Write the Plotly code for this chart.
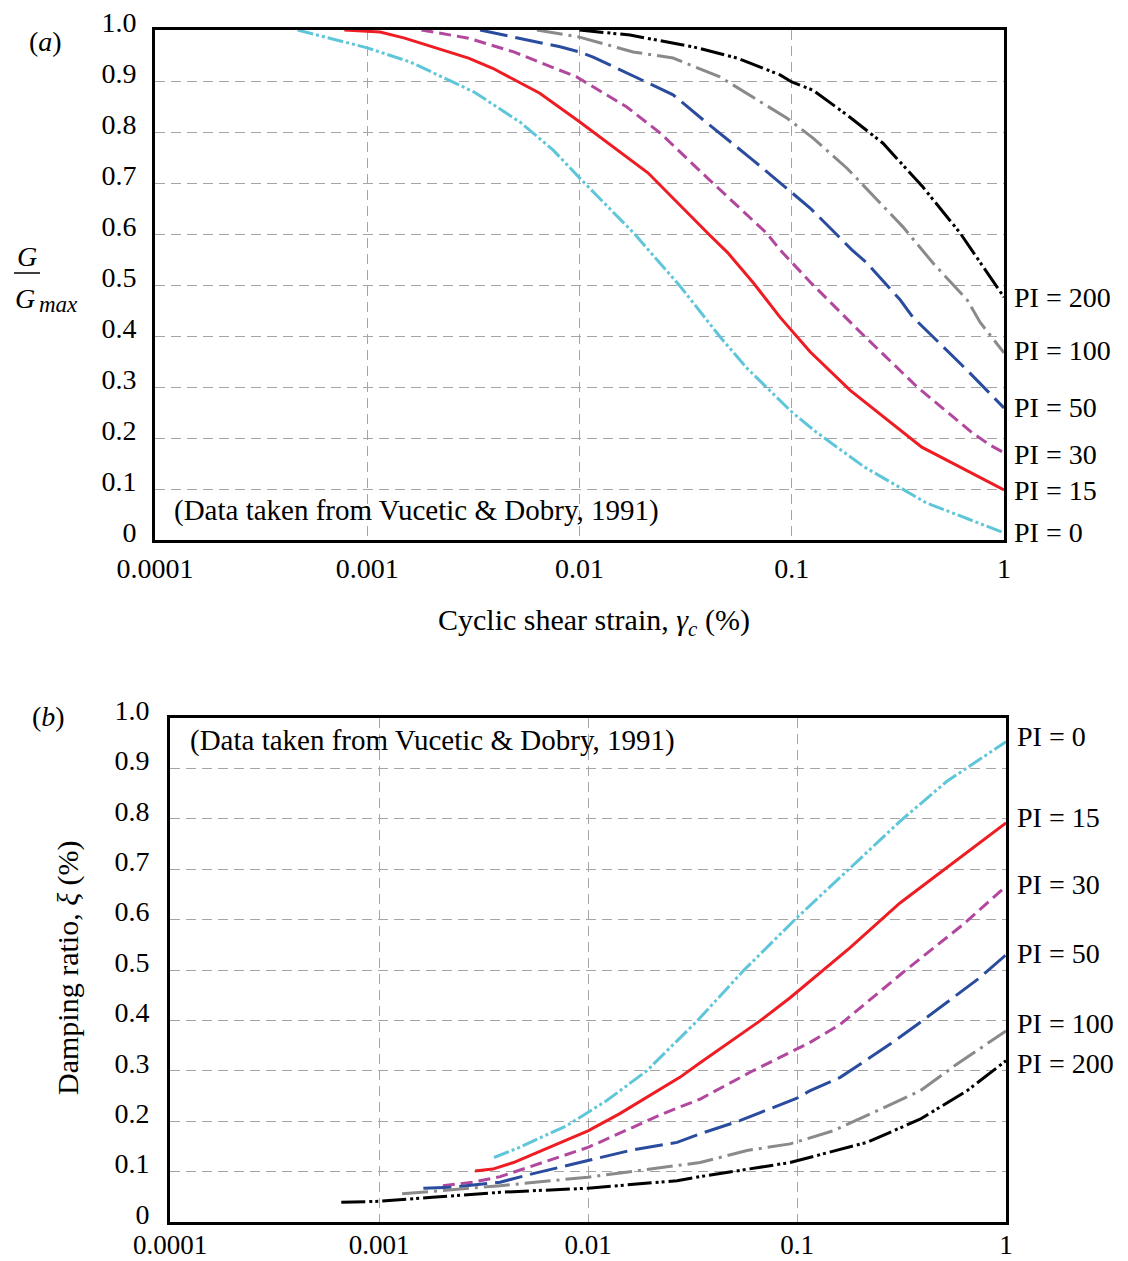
import plotly.graph_objects as go

# ---------------- data: panel (a) G/Gmax ----------------
a_strain_pi0 = [0.00047, 0.001, 0.0016, 0.0025, 0.0032, 0.0053, 0.0075, 0.01, 0.018, 0.03, 0.046, 0.0615, 0.1, 0.13, 0.22, 0.43, 1.0]
a_g_pi0 = [1.0, 0.965, 0.937, 0.898, 0.878, 0.818, 0.765, 0.71, 0.602, 0.496, 0.398, 0.337, 0.251, 0.212, 0.143, 0.073, 0.014]

a_strain_pi15 = [0.00078, 0.00115, 0.0015, 0.003, 0.0039, 0.0065, 0.01, 0.021, 0.041, 0.05, 0.066, 0.088, 0.122, 0.188, 0.41, 1.0]
a_g_pi15 = [1.0, 0.996, 0.984, 0.945, 0.925, 0.876, 0.82, 0.72, 0.598, 0.563, 0.504, 0.437, 0.369, 0.294, 0.182, 0.098]

a_strain_pi30 = [0.0018, 0.003, 0.0049, 0.0097, 0.0167, 0.02, 0.024, 0.04, 0.066, 0.076, 0.088, 0.122, 0.217, 0.39, 0.71, 0.86, 1.0]
a_g_pi30 = [1.0, 0.984, 0.957, 0.908, 0.849, 0.824, 0.798, 0.71, 0.627, 0.602, 0.569, 0.506, 0.402, 0.3, 0.21, 0.186, 0.171]

a_strain_pi50 = [0.0034, 0.0059, 0.0081, 0.01, 0.0116, 0.0276, 0.0382, 0.0656, 0.101, 0.122, 0.192, 0.226, 0.324, 0.372, 0.67, 1.0]
a_g_pi50 = [1.0, 0.98, 0.967, 0.957, 0.947, 0.873, 0.824, 0.745, 0.68, 0.651, 0.569, 0.543, 0.471, 0.437, 0.333, 0.259]

a_strain_pi100 = [0.0063, 0.01, 0.0179, 0.0276, 0.0459, 0.0951, 0.126, 0.182, 0.334, 0.463, 0.67, 0.771, 1.0]
a_g_pi100 = [1.0, 0.986, 0.957, 0.945, 0.908, 0.827, 0.788, 0.729, 0.614, 0.543, 0.471, 0.427, 0.367]

a_strain_pi200 = [0.01, 0.0173, 0.0343, 0.0552, 0.0881, 0.1, 0.126, 0.188, 0.269, 0.415, 0.621, 1.0]
a_g_pi200 = [1.0, 0.99, 0.967, 0.945, 0.912, 0.898, 0.882, 0.829, 0.778, 0.692, 0.602, 0.476]

# ---------------- data: panel (b) damping ratio ----------------
b_strain_pi0 = [0.00355, 0.00457, 0.0079, 0.0123, 0.0191, 0.0239, 0.0333, 0.0552, 0.1, 0.173, 0.311, 0.52, 1.0]
b_d_pi0 = [0.128, 0.146, 0.191, 0.241, 0.300, 0.340, 0.399, 0.498, 0.604, 0.696, 0.795, 0.874, 0.953]

b_strain_pi15 = [0.00288, 0.0035, 0.0044, 0.01, 0.0142, 0.0275, 0.0344, 0.0665, 0.0927, 0.115, 0.179, 0.311, 0.751, 1.0]
b_d_pi15 = [0.101, 0.105, 0.118, 0.181, 0.215, 0.287, 0.316, 0.399, 0.445, 0.478, 0.544, 0.633, 0.752, 0.792]

b_strain_pi30 = [0.00202, 0.00282, 0.0038, 0.01, 0.0229, 0.0344, 0.0615, 0.0927, 0.115, 0.161, 0.321, 0.622, 1.0]
b_d_pi30 = [0.072, 0.079, 0.090, 0.148, 0.215, 0.244, 0.300, 0.336, 0.356, 0.392, 0.495, 0.590, 0.666]

b_strain_pi50 = [0.00163, 0.00226, 0.0038, 0.00546, 0.01, 0.0159, 0.0267, 0.0344, 0.0533, 0.1, 0.115, 0.161, 0.279, 0.388, 0.751, 1.0]
b_d_pi50 = [0.067, 0.069, 0.079, 0.096, 0.122, 0.142, 0.158, 0.175, 0.201, 0.246, 0.260, 0.287, 0.353, 0.396, 0.485, 0.530]

b_strain_pi100 = [0.00129, 0.0038, 0.01, 0.0344, 0.0577, 0.0927, 0.149, 0.388, 0.581, 1.0]
b_d_pi100 = [0.056, 0.072, 0.089, 0.118, 0.142, 0.155, 0.181, 0.260, 0.313, 0.379]

b_strain_pi200 = [0.00066, 0.001, 0.0018, 0.0038, 0.01, 0.0267, 0.0344, 0.0927, 0.216, 0.388, 0.649, 1.0]
b_d_pi200 = [0.039, 0.041, 0.049, 0.059, 0.067, 0.082, 0.090, 0.118, 0.158, 0.204, 0.260, 0.320]

series_names = ["PI = 0", "PI = 15", "PI = 30", "PI = 50", "PI = 100", "PI = 200"]

x_tickvals = [0.0001, 0.001, 0.01, 0.1, 1]
x_ticktext = ["0.0001", "0.001", "0.01", "0.1", "1"]
y_tickvals = [0, 0.1, 0.2, 0.3, 0.4, 0.5, 0.6, 0.7, 0.8, 0.9, 1.0]
y_ticktext = ["0", "0.1", "0.2", "0.3", "0.4", "0.5", "0.6", "0.7", "0.8", "0.9", "1.0"]

source_note = "(Data taken from Vucetic &amp; Dobry, 1991)"

# ---------------- styles ----------------
colors = ["#5FC6DA", "#EE1D23", "#B2479E", "#2A4C9E", "#8A8A8A", "#000000"]
dashes = [
    "16px,3px,3px,3px,3px,3px",
    "solid",
    "12px,6px",
    "28px,8px",
    "26px,6px,3px,6px",
    "24px,4px,3px,3px,3px,4px",
]
FONT = "Liberation Serif"
FS = 28

a_x = [a_strain_pi0, a_strain_pi15, a_strain_pi30, a_strain_pi50, a_strain_pi100, a_strain_pi200]
a_y = [a_g_pi0, a_g_pi15, a_g_pi30, a_g_pi50, a_g_pi100, a_g_pi200]
b_x = [b_strain_pi0, b_strain_pi15, b_strain_pi30, b_strain_pi50, b_strain_pi100, b_strain_pi200]
b_y = [b_d_pi0, b_d_pi15, b_d_pi30, b_d_pi50, b_d_pi100, b_d_pi200]

fig = go.Figure()
for i in range(6):
    fig.add_trace(go.Scatter(x=a_x[i], y=a_y[i], mode="lines", name=series_names[i],
                             line=dict(color=colors[i], width=3, dash=dashes[i]),
                             xaxis="x", yaxis="y", showlegend=False))
for i in range(6):
    fig.add_trace(go.Scatter(x=b_x[i], y=b_y[i], mode="lines", name=series_names[i],
                             line=dict(color=colors[i], width=3, dash=dashes[i]),
                             xaxis="x2", yaxis="y2", showlegend=False))

W, H = 1128, 1261


def px_x(p):
    return p / W


def px_y(p):
    return 1 - p / H


axis_common = dict(
    showline=True, mirror=True, linewidth=3, linecolor="black",
    showgrid=True, gridcolor="#A5A5A5", gridwidth=1.4, griddash="10px,6px",
    ticks="", ticklen=0, zeroline=False, automargin=False,
)
tickfont = dict(family=FONT, size=FS, color="black")

fig.update_layout(
    width=W, height=H,
    margin=dict(l=0, r=0, t=0, b=0, pad=0, autoexpand=False),
    paper_bgcolor="white", plot_bgcolor="white",
    font=dict(family=FONT, size=FS, color="black"),
    xaxis=dict(type="log", range=[-4, 0], domain=[px_x(155), px_x(1004)],
               tickvals=x_tickvals, ticktext=x_ticktext, anchor="y",
               ticklabelstandoff=1, tickfont=tickfont, **axis_common),
    yaxis=dict(range=[0, 1], domain=[px_y(540), px_y(30)],
               tickvals=y_tickvals, ticktext=y_ticktext, anchor="x",
               ticklabelstandoff=10, ticklabelshift=-8, tickfont=tickfont, **axis_common),
    xaxis2=dict(type="log", range=[-4, 0], domain=[px_x(170), px_x(1006)],
                tickvals=x_tickvals, ticktext=x_ticktext, anchor="y2",
                ticklabelstandoff=-3, tickfont=dict(family=FONT, size=27, color="black"),
                **axis_common),
    yaxis2=dict(range=[0, 1], domain=[px_y(1222), px_y(718)],
                tickvals=y_tickvals, ticktext=y_ticktext, anchor="x2",
                ticklabelstandoff=12, ticklabelshift=-8, tickfont=tickfont, **axis_common),
)

annotations = []
# PI labels at curve ends
a_label_shift = [0, 0, -2, 0, 2, 0]
b_label_shift = [5, 5, 2, 1, 7, -3]
for i in range(6):
    annotations.append(dict(x=0, y=a_y[i][-1], xref="x", yref="y", text=series_names[i],
                            showarrow=False, xanchor="left", yanchor="middle",
                            xshift=8, yshift=a_label_shift[i],
                            font=dict(family=FONT, size=FS)))
    annotations.append(dict(x=0, y=b_y[i][-1], xref="x2", yref="y2", text=series_names[i],
                            showarrow=False, xanchor="left", yanchor="middle",
                            xshift=9, yshift=b_label_shift[i],
                            font=dict(family=FONT, size=FS)))

# source notes
annotations.append(dict(x=0.02, y=0.057, xref="x domain", yref="y domain", text=source_note,
                        showarrow=False, xanchor="left", yanchor="middle",
                        font=dict(family=FONT, size=29)))
annotations.append(dict(x=0.0215, y=0.956, xref="x2 domain", yref="y2 domain", text=source_note,
                        showarrow=False, xanchor="left", yanchor="middle",
                        font=dict(family=FONT, size=29)))

# axis titles
annotations.append(dict(x=px_x(594), y=px_y(622), xref="paper", yref="paper",
                        text="Cyclic shear strain, <i>γ</i><sub><i>c</i></sub> (%)",
                        showarrow=False, xanchor="center", yanchor="middle",
                        font=dict(family=FONT, size=30)))
annotations.append(dict(x=px_x(68), y=px_y(968), xref="paper", yref="paper",
                        text="Damping ratio, <i>ξ</i> (%)", textangle=-90,
                        showarrow=False, xanchor="center", yanchor="middle",
                        font=dict(family=FONT, size=30)))
# G / Gmax fraction
annotations.append(dict(x=px_x(27), y=px_y(257), xref="paper", yref="paper",
                        text="<i>G</i>", showarrow=False, xanchor="center", yanchor="middle",
                        font=dict(family=FONT, size=FS)))
annotations.append(dict(x=px_x(25), y=px_y(298), xref="paper", yref="paper",
                        text="<i>G</i>", showarrow=False,
                        xanchor="center", yanchor="middle",
                        font=dict(family=FONT, size=FS)))
annotations.append(dict(x=px_x(37), y=px_y(304), xref="paper", yref="paper",
                        text="<i>max</i>", showarrow=False,
                        xanchor="left", yanchor="middle",
                        font=dict(family=FONT, size=23)))
# panel labels
annotations.append(dict(x=px_x(45), y=px_y(42), xref="paper", yref="paper",
                        text="(<i>a</i>)", showarrow=False, xanchor="center", yanchor="middle",
                        font=dict(family=FONT, size=FS)))
annotations.append(dict(x=px_x(48), y=px_y(716), xref="paper", yref="paper",
                        text="(<i>b</i>)", showarrow=False, xanchor="center", yanchor="middle",
                        font=dict(family=FONT, size=FS)))

fig.update_layout(annotations=annotations)
fig.add_shape(type="line", xref="paper", yref="paper",
              x0=px_x(14), x1=px_x(40), y0=px_y(273), y1=px_y(273),
              line=dict(color="black", width=1.5))

fig.write_html("out.html")
